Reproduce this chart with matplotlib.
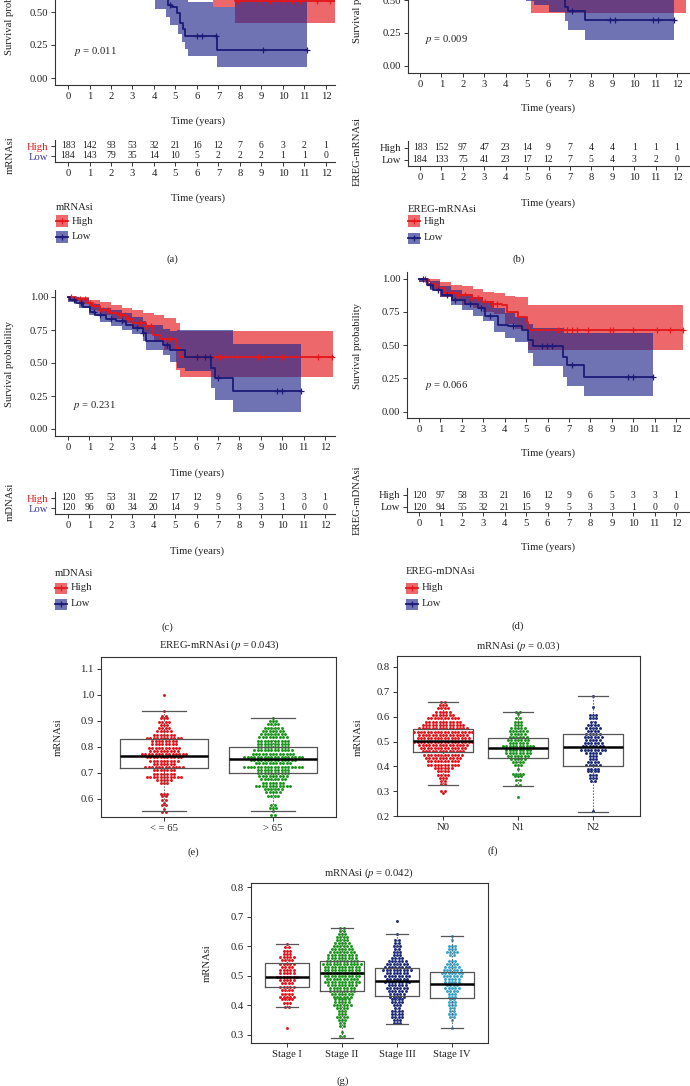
import numpy as np
import matplotlib
matplotlib.use("Agg")
import matplotlib.pyplot as plt
from matplotlib.patches import Rectangle
from matplotlib.lines import Line2D

plt.rcParams['font.family'] = ['Liberation Serif', 'DejaVu Serif']
plt.rcParams['mathtext.fontset'] = 'stix'

# ---------------- KM data ----------------
years = list(range(13))

# (a) mRNAsi
a_hi_t = [0, 1, 2, 3, 4, 5, 6.5, 7.75, 12.4]
a_hi_s = [1.0, 0.95, 0.88, 0.80, 0.74, 0.68, 0.64, 0.583, 0.583]
a_hi_cens = [7.9, 8.9, 9.4, 10.0, 10.4, 10.8, 11.6, 12.2]
a_hi_ci_t = [0, 3, 5, 6.75, 7.75, 12.4]
a_hi_lo = [0.95, 0.75, 0.65, 0.54, 0.42, 0.42]
a_hi_up = [1.0, 0.9, 0.85, 0.85, 0.80, 0.80]
a_lo_t = [0, 1, 2, 3, 4, 4.67, 4.82, 5.05, 5.21, 5.33, 5.44, 6.91, 11.1]
a_lo_s = [1.0, 0.93, 0.84, 0.76, 0.66, 0.55, 0.54, 0.49, 0.42, 0.37, 0.32, 0.21, 0.21]
a_lo_cens = [4.75, 5.98, 6.22, 6.88, 9.08, 11.1]
a_lo_ci_t = [0, 4.05, 4.55, 4.75, 5.1, 5.3, 5.45, 5.6, 6.75, 6.93, 7.75, 11.1]
a_lo_lo = [0.70, 0.525, 0.46, 0.40, 0.33, 0.27, 0.22, 0.17, 0.17, 0.08, 0.08, 0.08]
a_lo_up = [1.0, 0.75, 0.70, 0.68, 0.65, 0.62, 0.60, 0.575, 0.54, 0.54, 0.62, 0.62]
a_risk_hi = [183, 142, 93, 53, 32, 21, 16, 12, 7, 6, 3, 2, 1]
a_risk_lo = [184, 143, 79, 35, 14, 10, 5, 2, 2, 2, 1, 1, 0]

# (b) EREG-mRNAsi
b_hi_t = [0, 2, 4, 5.2, 6, 12.4]
b_hi_s = [1.0, 0.9, 0.8, 0.7, 0.62, 0.62]
b_hi_cens = []
b_hi_ci_t = [0, 5.2, 12.4]
b_hi_lo = [0.80, 0.40, 0.40]
b_hi_up = [1.0, 0.85, 0.85]
b_lo_t = [0, 1, 2, 3, 4, 5, 6.78, 6.93, 7.71, 11.84]
b_lo_s = [1.0, 0.93, 0.85, 0.78, 0.70, 0.60, 0.45, 0.42, 0.35, 0.35]
b_lo_cens = [7.09, 8.88, 9.1, 10.9, 11.1, 11.84]
b_lo_ci_t = [0, 4.97, 5.3, 6.0, 6.78, 6.93, 7.71, 11.84]
b_lo_lo = [0.80, 0.49, 0.46, 0.41, 0.34, 0.27, 0.20, 0.20]
b_lo_up = [1.0, 0.75, 0.72, 0.70, 0.65, 0.62, 0.55, 0.55]
b_risk_hi = [183, 152, 97, 47, 23, 14, 9, 7, 4, 4, 1, 1, 1]
b_risk_lo = [184, 133, 75, 41, 23, 17, 12, 7, 5, 4, 3, 2, 0]

# (c) mDNAsi
c_hi_t = [0, 0.39, 0.86, 1.17, 1.48, 1.95, 2.34, 2.73, 3.04, 3.66, 3.97, 4.28, 5.06, 5.22, 12.38]
c_hi_s = [1.0, 0.985, 0.955, 0.93, 0.90, 0.88, 0.86, 0.835, 0.80, 0.78, 0.715, 0.68, 0.61, 0.545, 0.545]
c_hi_cens = [0.16, 0.55, 0.78, 1.01, 1.25, 1.48, 1.64, 1.87, 2.18, 2.41, 2.65, 2.80, 3.35, 3.66,
             3.89, 4.52, 4.75, 6.0, 6.31, 6.85, 7.09, 7.32, 7.87, 8.88, 9.11, 9.97, 11.68, 12.31]
c_hi_ci_t = [0, 0.5, 1.0, 1.5, 2.0, 2.5, 3.0, 3.5, 4.0, 4.5, 5.06, 5.22, 12.38]
c_hi_lo = [0.97, 0.95, 0.90, 0.86, 0.83, 0.80, 0.76, 0.72, 0.66, 0.60, 0.45, 0.394, 0.394]
c_hi_up = [1.0, 1.0, 0.98, 0.96, 0.94, 0.92, 0.90, 0.88, 0.86, 0.84, 0.80, 0.745, 0.745]
c_lo_t = [0, 0.1, 0.39, 0.70, 1.01, 1.25, 1.79, 2.26, 2.73, 3.04, 3.50, 3.66, 4.44, 4.75,
          5.45, 6.70, 6.85, 7.71, 10.9]
c_lo_s = [1.0, 0.98, 0.955, 0.925, 0.89, 0.86, 0.835, 0.815, 0.79, 0.765, 0.73, 0.67, 0.64,
          0.60, 0.545, 0.46, 0.386, 0.285, 0.285]
c_lo_cens = [0.3, 0.6, 1.2, 1.5, 2.0, 2.5, 3.2, 3.5, 4.6, 6.0, 6.39, 6.62, 7.0, 9.74, 9.97, 10.9]
c_lo_ci_t = [0, 0.5, 1.0, 1.5, 2.0, 2.5, 3.0, 3.5, 3.66, 4.44, 4.75, 5.1, 5.45, 6.70, 6.85, 7.71, 10.9]
c_lo_lo = [0.96, 0.92, 0.86, 0.81, 0.78, 0.75, 0.72, 0.67, 0.60, 0.56, 0.51, 0.46, 0.44, 0.31,
           0.22, 0.126, 0.126]
c_lo_up = [1.0, 0.99, 0.95, 0.92, 0.90, 0.88, 0.85, 0.82, 0.79, 0.76, 0.74, 0.75, 0.75, 0.75,
           0.75, 0.646, 0.646]
c_risk_hi = [120, 95, 53, 31, 22, 17, 12, 9, 6, 5, 3, 3, 1]
c_risk_lo = [120, 96, 60, 34, 20, 14, 9, 5, 3, 3, 1, 0, 0]

# (d) EREG-mDNAsi
d_hi_t = [0, 0.44, 0.82, 1.21, 1.84, 2.46, 2.93, 3.39, 3.86, 4.09, 4.64, 5.03, 5.1, 12.34]
d_hi_s = [1.0, 0.96, 0.925, 0.89, 0.875, 0.85, 0.825, 0.81, 0.80, 0.75, 0.71, 0.675, 0.61, 0.61]
d_hi_cens = [0.28, 0.75, 1.21, 1.53, 1.84, 2.15, 2.46, 2.77, 3.08, 3.39, 3.62, 6.5, 6.74, 6.9,
             7.13, 7.36, 7.91, 8.92, 9.07, 10.0, 11.1, 11.72, 12.34]
d_hi_ci_t = [0, 0.5, 1, 1.5, 2, 2.5, 3, 3.5, 4, 4.5, 5.1, 12.34]
d_hi_lo = [0.97, 0.92, 0.86, 0.83, 0.80, 0.78, 0.75, 0.73, 0.66, 0.62, 0.46, 0.46]
d_hi_up = [1.0, 1.0, 0.97, 0.95, 0.94, 0.92, 0.90, 0.89, 0.87, 0.86, 0.80, 0.80]
d_lo_t = [0, 0.36, 0.67, 1.06, 1.53, 2.15, 2.77, 3.08, 3.70, 4.17, 4.79, 5.1, 5.34, 6.74, 6.9,
          7.72, 10.94]
d_lo_s = [1.0, 0.95, 0.91, 0.875, 0.84, 0.81, 0.775, 0.72, 0.65, 0.64, 0.61, 0.54, 0.49, 0.41,
          0.35, 0.26, 0.26]
d_lo_cens = [0.2, 0.5, 0.9, 1.3, 1.7, 2.4, 2.9, 3.3, 4.4, 5.73, 5.96, 6.19, 7.13, 9.77, 10.0, 10.94]
d_lo_ci_t = [0, 0.5, 1, 1.5, 2, 2.5, 3, 3.5, 4, 4.5, 5.1, 5.34, 6.74, 6.9, 7.72, 10.94]
d_lo_lo = [0.97, 0.91, 0.86, 0.80, 0.76, 0.72, 0.68, 0.60, 0.55, 0.52, 0.44, 0.34, 0.26, 0.19,
           0.12, 0.12]
d_lo_up = [1.0, 0.98, 0.94, 0.91, 0.88, 0.86, 0.83, 0.78, 0.74, 0.71, 0.66, 0.625, 0.59, 0.59,
           0.59, 0.59]
d_risk_hi = [120, 97, 58, 33, 21, 16, 12, 9, 6, 5, 3, 3, 1]
d_risk_lo = [120, 94, 55, 32, 21, 15, 9, 5, 3, 3, 1, 0, 0]

# ---------------- box / swarm data ----------------
# each swarm row: value, number of dots in that row
e_groups = ['< = 65', '> 65']
e_le65_v = [1.00, 0.94, 0.92, 0.91, 0.897, 0.885, 0.872, 0.86, 0.847, 0.835, 0.822, 0.81, 0.797,
            0.785, 0.772, 0.76, 0.747, 0.735, 0.722, 0.71, 0.697, 0.685, 0.672, 0.66, 0.62, 0.61,
            0.597, 0.585, 0.575, 0.56, 0.55]
e_le65_n = [1, 1, 2, 3, 4, 3, 4, 5, 7, 11, 8, 8, 10, 9, 14, 11, 9, 7, 12, 7, 7, 11, 5, 3, 3, 2,
            2, 1, 2, 1, 2]
e_gt65_v = [0.912, 0.90, 0.887, 0.875, 0.862, 0.85, 0.837, 0.825, 0.812, 0.80, 0.787, 0.775,
            0.762, 0.75, 0.737, 0.725, 0.712, 0.70, 0.687, 0.675, 0.662, 0.65, 0.637, 0.625,
            0.612, 0.575, 0.565, 0.555, 0.54]
e_gt65_n = [1, 3, 4, 6, 7, 8, 9, 10, 10, 10, 12, 13, 18, 14, 11, 18, 10, 10, 9, 8, 7, 11, 6, 5,
            4, 2, 3, 1, 2]
e_med = [0.767, 0.752]
e_q1 = [0.72, 0.70]
e_q3 = [0.83, 0.80]
e_wlo = [0.555, 0.555]
e_whi = [0.94, 0.912]

f_groups = ['N0', 'N1', 'N2']
f_n0_v = [0.66, 0.647, 0.633, 0.62, 0.607, 0.593, 0.58, 0.567, 0.553, 0.54, 0.527, 0.513, 0.50,
          0.487, 0.473, 0.46, 0.447, 0.433, 0.42, 0.407, 0.393, 0.38, 0.367, 0.353, 0.34, 0.33,
          0.30, 0.293]
f_n0_n = [2, 3, 4, 5, 7, 10, 11, 13, 15, 18, 15, 16, 18, 15, 14, 13, 12, 11, 10, 10, 6, 4, 4, 3,
          2, 2, 2, 1]
f_n1_v = [0.62, 0.61, 0.595, 0.58, 0.567, 0.555, 0.542, 0.53, 0.517, 0.505, 0.492, 0.48, 0.467,
          0.455, 0.442, 0.43, 0.417, 0.405, 0.39, 0.37, 0.36, 0.345, 0.325, 0.275]
f_n1_n = [2, 1, 2, 3, 3, 5, 6, 5, 6, 7, 6, 10, 8, 8, 7, 5, 4, 3, 1, 4, 3, 2, 2, 1]
f_n2_v = [0.685, 0.64, 0.605, 0.595, 0.58, 0.567, 0.555, 0.542, 0.53, 0.517, 0.505, 0.492, 0.48,
          0.467, 0.455, 0.442, 0.43, 0.417, 0.405, 0.39, 0.38, 0.365, 0.352, 0.34, 0.22]
f_n2_n = [1, 1, 3, 3, 2, 4, 5, 4, 5, 6, 5, 6, 7, 8, 5, 3, 3, 4, 5, 4, 4, 3, 3, 2, 1]
f_med = [0.503, 0.473, 0.476]
f_q1 = [0.457, 0.435, 0.403]
f_q3 = [0.55, 0.516, 0.532]
f_wlo = [0.325, 0.322, 0.217]
f_whi = [0.659, 0.618, 0.684]

g_groups = ['Stage I', 'Stage II', 'Stage III', 'Stage IV']
g_s1_v = [0.608, 0.597, 0.585, 0.575, 0.563, 0.552, 0.54, 0.53, 0.52, 0.508, 0.497, 0.485,
          0.475, 0.463, 0.452, 0.44, 0.43, 0.42, 0.408, 0.395, 0.323]
g_s1_n = [1, 2, 3, 3, 5, 4, 5, 4, 5, 5, 7, 5, 4, 5, 4, 4, 5, 4, 3, 2, 1]
g_s2_v = [0.66, 0.65, 0.64, 0.63, 0.62, 0.61, 0.60, 0.59, 0.58, 0.57, 0.56, 0.55, 0.54, 0.53,
          0.52, 0.51, 0.50, 0.49, 0.48, 0.47, 0.46, 0.45, 0.44, 0.43, 0.42, 0.41, 0.40, 0.39,
          0.38, 0.37, 0.36, 0.35, 0.34, 0.33, 0.31, 0.295]
g_s2_n = [2, 2, 3, 4, 4, 5, 6, 7, 8, 9, 9, 10, 12, 11, 11, 12, 11, 10, 11, 9, 8, 8, 7, 6, 5, 5,
          6, 4, 3, 3, 4, 3, 2, 2, 1, 2]
g_s3_v = [0.685, 0.642, 0.62, 0.61, 0.60, 0.59, 0.58, 0.57, 0.56, 0.55, 0.54, 0.53, 0.52, 0.51,
          0.50, 0.49, 0.48, 0.47, 0.46, 0.45, 0.44, 0.43, 0.42, 0.41, 0.40, 0.39, 0.38, 0.37,
          0.36, 0.35, 0.34]
g_s3_n = [1, 1, 2, 2, 3, 2, 3, 3, 4, 6, 7, 8, 9, 7, 8, 7, 8, 6, 7, 6, 5, 5, 4, 4, 3, 2, 4, 4, 4,
          3, 3]
g_s4_v = [0.634, 0.62, 0.60, 0.59, 0.58, 0.57, 0.55, 0.54, 0.53, 0.52, 0.51, 0.50, 0.49, 0.48,
          0.47, 0.46, 0.45, 0.44, 0.43, 0.42, 0.41, 0.40, 0.39, 0.38, 0.37, 0.36, 0.35, 0.322]
g_s4_n = [1, 1, 3, 3, 4, 2, 3, 4, 5, 6, 7, 6, 5, 5, 4, 5, 4, 3, 3, 2, 3, 3, 2, 2, 3, 2, 1, 1]
g_med = [0.497, 0.508, 0.481, 0.472]
g_q1 = [0.461, 0.447, 0.431, 0.424]
g_q3 = [0.542, 0.551, 0.528, 0.512]
g_wlo = [0.393, 0.291, 0.337, 0.322]
g_whi = [0.609, 0.66, 0.642, 0.634]

RED = '#E3171C'
BLUE = '#1C1A78'
BAND = {'High': '#E3171C', 'Low': '#22288C'}
LINE = {'High': RED, 'Low': BLUE}
DOT_RED = '#E0141A'
DOT_GREEN = '#1A961A'
DOT_NAVY = '#1B2A7A'
DOT_CYAN = '#38A3C9'
TXT = '#222222'
FS = 7.7
DOT_PX = 3.4   # horizontal spacing of swarm dots, in pixels

W, H = 690, 1086
fig = plt.figure(figsize=(W / 100, H / 100), dpi=100)


def px_ax(xp, xv, yp, yv, xlim, ylim):
    # place an axes so that data values xv/yv land on pixel positions xp/yp
    sx = (xp[1] - xp[0]) / (xv[1] - xv[0])
    sy = (yp[1] - yp[0]) / (yv[1] - yv[0])
    left = xp[0] + (xlim[0] - xv[0]) * sx
    right = xp[0] + (xlim[1] - xv[0]) * sx
    bottom = yp[0] + (ylim[0] - yv[0]) * sy
    top = yp[0] + (ylim[1] - yv[0]) * sy
    ax = fig.add_axes([left / W, 1 - bottom / H, (right - left) / W, (bottom - top) / H])
    ax.set_xlim(xlim)
    ax.set_ylim(ylim)
    ax.patch.set_alpha(0)
    return ax


def ftext(x, y, s, **kw):
    kw.setdefault('fontsize', FS)
    kw.setdefault('color', TXT)
    kw.setdefault('ha', 'center')
    kw.setdefault('va', 'center')
    fig.text(x / W, 1 - y / H, s, **kw)


def style_lb(ax):
    for side in ('top', 'right'):
        ax.spines[side].set_visible(False)
    for side in ('left', 'bottom'):
        ax.spines[side].set_color('#333333')
        ax.spines[side].set_linewidth(0.8)
    ax.tick_params(length=3, width=0.7, pad=2, labelsize=FS, colors='#333333', labelcolor=TXT)


def km_panel(ax, groups, ptxt, pxy):
    for g in ('High', 'Low'):
        d = groups[g]
        ax.fill_between(d['ci_t'], d['lo'], d['up'], step='post', color=BAND[g], alpha=0.65, lw=0)
    for g in ('High', 'Low'):
        d = groups[g]
        ax.step(d['t'], d['s'], where='post', color=LINE[g], lw=1.3)
        if len(d['cens']):
            idx = np.searchsorted(d['t'], d['cens'], side='right') - 1
            ax.plot(d['cens'], np.asarray(d['s'])[idx], ls='none', marker='+',
                    color=LINE[g], ms=4, mew=0.9)
    style_lb(ax)
    ax.set_xticks(years)
    ax.set_yticks([0, 0.25, 0.5, 0.75, 1.0])
    ax.set_yticklabels(['0.00', '0.25', '0.50', '0.75', '1.00'])
    ftext(pxy[0], pxy[1], ptxt, ha='left')


def risk_panel(ax, hi, lo, colored):
    style_lb(ax)
    ax.set_xticks(years)
    ax.set_yticks([0, 1])
    ax.set_yticklabels(['Low', 'High'], fontsize=FS)
    if colored:
        ax.get_yticklabels()[0].set_color('#3A3A9E')
        ax.get_yticklabels()[1].set_color(RED)
    for t, n in zip(years, hi):
        ax.text(t, 1, str(n), ha='center', va='center', fontsize=7, color=TXT)
    for t, n in zip(years, lo):
        ax.text(t, 0, str(n), ha='center', va='center', fontsize=7, color=TXT)


def legend_block(x, y_title, y_rows, label_x, title):
    ftext(x, y_title, title, ha='left')
    for g, yr in zip(('High', 'Low'), y_rows):
        fig.patches.append(Rectangle((x / W, 1 - (yr + 5.5) / H), 12 / W, 11 / H,
                                     transform=fig.transFigure, color=BAND[g], alpha=0.65, lw=0))
        fig.lines.append(Line2D([x / W, (x + 12) / W], [1 - yr / H] * 2, transform=fig.transFigure,
                                color=LINE[g], lw=1.3))
        fig.lines.append(Line2D([(x + 6) / W], [1 - yr / H], transform=fig.transFigure,
                                color=LINE[g], marker='+', ms=4, mew=0.9))
        ftext(label_x, yr, g, ha='left')


def mk(t, s, cens, ci_t, lo, up):
    return {'t': t, 's': s, 'cens': cens, 'ci_t': ci_t, 'lo': lo, 'up': up}


# ---------------- (a) ----------------
ax = px_ax((68, 326), (0, 12), (78, 45), (0, 0.25), (-0.6, 12.42), (-0.05, 1.05))
km_panel(ax, {'High': mk(a_hi_t, a_hi_s, a_hi_cens, a_hi_ci_t, a_hi_lo, a_hi_up),
              'Low': mk(a_lo_t, a_lo_s, a_lo_cens, a_lo_ci_t, a_lo_lo, a_lo_up)},
         r'$p$ = 0.011', (74, 52))
ftext(10, 12, 'Survival probability', rotation=90)
ftext(198, 121, 'Time (years)')
ax = px_ax((68, 326), (0, 12), (156, 146), (0, 1), (-0.6, 12.42), (-0.6, 1.6))
risk_panel(ax, a_risk_hi, a_risk_lo, True)
ftext(10, 155, 'mRNAsi', rotation=90)
ftext(198, 198, 'Time (years)')
legend_block(56, 208, (221, 237), 72, 'mRNAsi')
ftext(172, 259, '(a)')

# ---------------- (b) ----------------
ax = px_ax((420, 677), (0, 12), (66, 33), (0, 0.25), (-0.56, 13.0), (-0.05, 1.05))
km_panel(ax, {'High': mk(b_hi_t, b_hi_s, b_hi_cens, b_hi_ci_t, b_hi_lo, b_hi_up),
              'Low': mk(b_lo_t, b_lo_s, b_lo_cens, b_lo_ci_t, b_lo_lo, b_lo_up)},
         r'$p$ = 0.009', (425, 39))
ftext(357, 0, 'Survival probability', rotation=90)
ftext(548, 108, 'Time (years)')
ax = px_ax((420, 677), (0, 12), (160, 148), (0, 1), (-0.56, 13.0), (-0.5, 1.6))
risk_panel(ax, b_risk_hi, b_risk_lo, False)
ftext(357, 152, 'EREG-mRNAsi', rotation=90)
ftext(548, 203, 'Time (years)')
legend_block(408, 209, (221, 238), 424, 'EREG-mRNAsi')
ftext(519, 259, '(b)')

# ---------------- (c) ----------------
ax = px_ax((68, 325), (0, 12), (429, 297), (0, 1), (-0.6, 12.45), (-0.05, 1.05))
km_panel(ax, {'High': mk(c_hi_t, c_hi_s, c_hi_cens, c_hi_ci_t, c_hi_lo, c_hi_up),
              'Low': mk(c_lo_t, c_lo_s, c_lo_cens, c_lo_ci_t, c_lo_lo, c_lo_up)},
         r'$p$ = 0.231', (73, 406))
ftext(10, 364, 'Survival probability', rotation=90)
ftext(197, 473, 'Time (years)')
ax = px_ax((68, 325), (0, 12), (508, 498), (0, 1), (-0.6, 12.45), (-0.6, 1.6))
risk_panel(ax, c_risk_hi, c_risk_lo, True)
ftext(10, 502, 'mDNAsi', rotation=90)
ftext(197, 551, 'Time (years)')
legend_block(55, 574, (588, 604), 71, 'mDNAsi')
ftext(167, 627, '(c)')

# ---------------- (d) ----------------
ax = px_ax((419, 676), (0, 12), (411.7, 278.5), (0, 1), (-0.56, 13.0), (-0.05, 1.05))
km_panel(ax, {'High': mk(d_hi_t, d_hi_s, d_hi_cens, d_hi_ci_t, d_hi_lo, d_hi_up),
              'Low': mk(d_lo_t, d_lo_s, d_lo_cens, d_lo_ci_t, d_lo_lo, d_lo_up)},
         r'$p$ = 0.066', (425, 385))
ftext(358, 346, 'Survival probability', rotation=90)
ftext(548, 453, 'Time (years)')
ax = px_ax((419, 676), (0, 12), (507, 495), (0, 1), (-0.56, 13.0), (-0.42, 1.55))
risk_panel(ax, d_risk_hi, d_risk_lo, False)
ftext(357, 500, 'EREG-mDNAsi', rotation=90)
ftext(548, 547, 'Time (years)')
legend_block(406, 572, (588, 604), 422, 'EREG-mDNAsi')
ftext(518, 626, '(d)')


# ---------------- box + swarm panels ----------------
def swarm(ax, pos, vals, counts, dx, color):
    xs, ys = [], []
    for v, n in zip(vals, counts):
        off = (np.arange(n) - (n - 1) / 2.0) * dx
        xs.extend(pos + off)
        ys.extend([v] * n)
    ax.scatter(xs, ys, s=4.5, color=color, lw=0, zorder=2)


def box_panel(ax, med, q1, q3, wlo, whi, labels, yticks):
    stats = []
    for i in range(len(med)):
        stats.append({'med': med[i], 'q1': q1[i], 'q3': q3[i], 'whislo': wlo[i],
                      'whishi': whi[i], 'fliers': []})
    ax.bxp(stats, positions=range(1, len(med) + 1), widths=0.8, capwidths=0.4,
           showfliers=False, patch_artist=False, manage_ticks=False,
           boxprops=dict(color='#555555', lw=0.9),
           whiskerprops=dict(color='#555555', lw=0.8, ls=(0, (1.2, 1.5))),
           capprops=dict(color='#555555', lw=0.9),
           medianprops=dict(color='black', lw=1.8), zorder=3)
    for side in ax.spines.values():
        side.set_color('#333333')
        side.set_linewidth(0.8)
    ax.set_xticks(range(1, len(med) + 1))
    ax.set_xticklabels(labels)
    ax.set_yticks(yticks)
    ax.set_yticklabels(['%.1f' % v for v in yticks])
    ax.tick_params(length=3, width=0.7, pad=2, labelsize=FS, colors='#333333', labelcolor=TXT)


# (e)
ax = px_ax((164, 273), (1, 2), (799, 669), (0.6, 1.1), (0.42, 2.58), (0.531, 1.146))
swarm(ax, 1, e_le65_v, e_le65_n, DOT_PX / 109, DOT_RED)
swarm(ax, 2, e_gt65_v, e_gt65_n, DOT_PX / 109, DOT_GREEN)
box_panel(ax, e_med, e_q1, e_q3, e_wlo, e_whi, e_groups, [0.6, 0.7, 0.8, 0.9, 1.0, 1.1])
ftext(219, 645, r'EREG-mRNAsi ($p$ = 0.043)')
ftext(58, 737, 'mRNAsi', rotation=90)
ftext(193, 852, '(e)')

# (f)
ax = px_ax((443, 593), (1, 3), (816, 667), (0.2, 0.8), (0.38, 3.62), (0.2, 0.845))
swarm(ax, 1, f_n0_v, f_n0_n, DOT_PX / 75, DOT_RED)
swarm(ax, 2, f_n1_v, f_n1_n, DOT_PX / 75, DOT_GREEN)
swarm(ax, 3, f_n2_v, f_n2_n, DOT_PX / 75, DOT_NAVY)
box_panel(ax, f_med, f_q1, f_q3, f_wlo, f_whi, f_groups, [0.2, 0.3, 0.4, 0.5, 0.6, 0.7, 0.8])
ftext(518, 646, r'mRNAsi ($p$ = 0.03)')
ftext(358, 737, 'mRNAsi', rotation=90)
ftext(493, 851, '(f)')

# (g)
ax = px_ax((287, 452), (1, 4), (1035, 887), (0.3, 0.8), (0.34, 4.66), (0.273, 0.8135))
swarm(ax, 1, g_s1_v, g_s1_n, DOT_PX / 55, DOT_RED)
swarm(ax, 2, g_s2_v, g_s2_n, DOT_PX / 55, DOT_GREEN)
swarm(ax, 3, g_s3_v, g_s3_n, DOT_PX / 55, DOT_NAVY)
swarm(ax, 4, g_s4_v, g_s4_n, DOT_PX / 55, DOT_CYAN)
box_panel(ax, g_med, g_q1, g_q3, g_wlo, g_whi, g_groups, [0.3, 0.4, 0.5, 0.6, 0.7, 0.8])
ftext(369, 873, r'mRNAsi ($p$ = 0.042)')
ftext(207, 963, 'mRNAsi', rotation=90)
ftext(343, 1081, '(g)')

fig.savefig('out.png', dpi=100)
